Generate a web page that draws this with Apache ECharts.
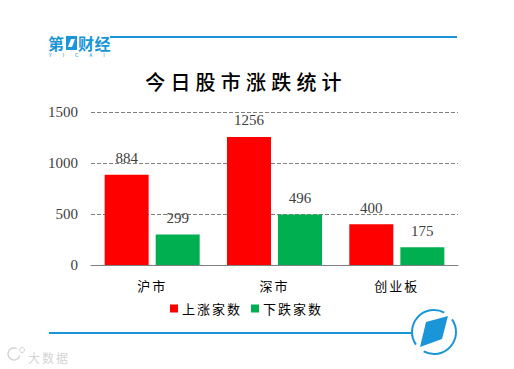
<!DOCTYPE html>
<html>
<head>
<meta charset="utf-8">
<style>
  html, body { margin: 0; padding: 0; background: #fff; }
  #chart { width: 514px; height: 369px; }
  /* 中文字距，SVG 渲染时才生效 */
  #chart text { letter-spacing: 2px; }
  #chart text[style*="Liberation Serif"] { letter-spacing: 0; }
  #chart text[style*=" 20px"] { letter-spacing: 5.2px; }
  #chart text[style*=" 5px"] { letter-spacing: 11px; }
  #chart text[style*=" 16px"] { letter-spacing: 0.5px; }
</style>
</head>
<body>
<div id="chart"></div>
<script src="https://cdn.jsdelivr.net/npm/echarts@6/dist/echarts.min.js"></script>
<script>
const categories = ['沪市', '深市', '创业板']
const upValues = [884, 1256, 400]
const downValues = [299, 496, 175]
const yTicks = [0, 500, 1000, 1500]

const BLUE = '#1a96d8'
const GREY = '#d4d4d4'
const CJK = '"Noto Sans CJK SC", sans-serif'
const NUM = '"Liberation Serif", serif'

const chart = echarts.init(document.getElementById('chart'), null, {renderer: 'svg'})

const barLabel = {
  show: true,
  position: 'top',
  distance: 9,
  fontFamily: NUM,
  fontSize: 15,
  color: '#404040',
}

chart.setOption({
  backgroundColor: '#fff',
  animation: false,
  title: {
    text: '今日股市涨跌统计',
    left: 241,
    top: 66,
    textAlign: 'center',
    textStyle: {fontFamily: CJK, fontSize: 20, fontWeight: 500, color: '#000'},
  },
  legend: {
    left: 170,
    top: 302,
    padding: 0,
    itemWidth: 8,
    itemHeight: 8,
    itemGap: 17,
    icon: 'rect',
    textStyle: {fontFamily: CJK, fontSize: 13, color: '#000', padding: [0, 0, 0, -1]},
  },
  grid: {left: 91, right: 56, top: 112, bottom: 104},
  xAxis: {
    type: 'category',
    data: categories,
    axisTick: {show: false},
    axisLine: {lineStyle: {color: '#808080', width: 1}},
    axisLabel: {fontFamily: CJK, fontSize: 13, color: '#000', margin: 14},
  },
  yAxis: {
    type: 'value',
    min: yTicks[0],
    max: yTicks[yTicks.length - 1],
    interval: yTicks[1],
    axisLine: {show: false},
    axisTick: {show: false},
    axisLabel: {fontFamily: NUM, fontSize: 15, color: '#404040', margin: 13, formatter: (val) => String(val)},
    splitLine: {lineStyle: {color: '#808080', type: 'dashed', width: 1}},
  },
  series: [
    {name: '上涨家数', type: 'bar', data: upValues, barWidth: 44, barGap: '16%',
      itemStyle: {color: '#ff0000'}, label: barLabel},
    {name: '下跌家数', type: 'bar', data: downValues, barWidth: 44,
      itemStyle: {color: '#00b050'}, label: barLabel},
  ],
  graphic: [
    // 顶部和底部的横线
    {type: 'line', shape: {x1: 110, y1: 37, x2: 457, y2: 37}, style: {stroke: BLUE, lineWidth: 2}},
    {type: 'line', shape: {x1: 49, y1: 333, x2: 412, y2: 333}, style: {stroke: BLUE, lineWidth: 2}},
    // 左上角 logo
    {type: 'text', x: 48, y: 35, style: {text: '第', fontFamily: CJK, fontSize: 16, lineHeight: 16, fontWeight: 700, fill: BLUE}},
    {type: 'polygon', shape: {points: [[66, 36], [77, 36], [77, 50], [66, 50]]}, style: {fill: BLUE}},
    {type: 'polygon', shape: {points: [[71, 39], [75, 39], [72, 47], [68, 47]]}, style: {fill: '#fff'}},
    {type: 'text', x: 78, y: 35, style: {text: '财经', fontFamily: CJK, fontSize: 16, lineHeight: 16, fontWeight: 700, fill: BLUE}},
    {type: 'text', x: 49, y: 52, style: {text: 'YICAI', fontFamily: CJK, fontSize: 5, lineHeight: 5, fill: BLUE}},
    // 右下角圆形图标
    {type: 'arc', shape: {cx: 434, cy: 332, r: 22, startAngle: -35 * Math.PI / 180, endAngle: 118 * Math.PI / 180},
      style: {stroke: BLUE, lineWidth: 2, fill: 'none'}},
    {type: 'arc', shape: {cx: 434, cy: 332, r: 22, startAngle: 145 * Math.PI / 180, endAngle: 298 * Math.PI / 180},
      style: {stroke: BLUE, lineWidth: 2, fill: 'none'}},
    {type: 'polygon', shape: {points: [[426, 322], [448, 316], [442, 339], [420, 347]]}, style: {fill: BLUE}},
    // 左下角水印
    {type: 'text', x: 28, y: 351, style: {text: '大数据', fontFamily: CJK, fontSize: 12, fill: GREY}},
    {type: 'arc', shape: {cx: 14, cy: 354, r: 6, startAngle: 0.3, endAngle: 5.2},
      style: {stroke: GREY, lineWidth: 1.5, fill: 'none'}},
    {type: 'circle', shape: {cx: 22, cy: 350, r: 2.5}, style: {stroke: GREY, lineWidth: 1, fill: 'none'}},
  ],
})
</script>
</body>
</html>
